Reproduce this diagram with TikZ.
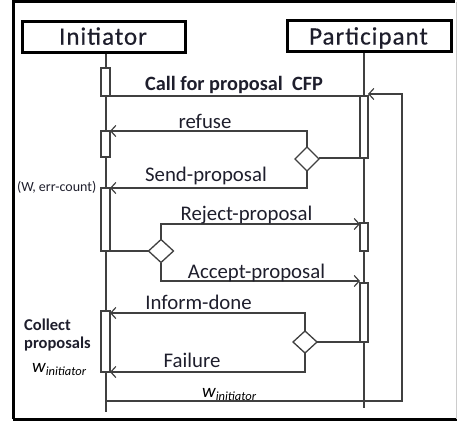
\documentclass[tikz,border=0pt]{standalone}
\usepackage{fontspec}
\setmainfont{Carlito}
\newfontfamily\titlefont[LetterSpace=4,FakeBold=0.4]{Carlito}
\usetikzlibrary{arrows.meta}
\definecolor{ln}{HTML}{404040}
\definecolor{tx}{HTML}{1E1E2C}
\begin{document}
\begin{tikzpicture}[x=1pt,y=-1pt,
  lnst/.style={draw=ln,line width=1.4pt},
  msg/.style={lnst,-{Straight Barb[length=5pt,width=11pt,line width=1.2pt]}},
  actor/.style={draw=black,line width=3pt,fill=white,minimum width=#1,minimum height=31pt,inner sep=0pt},
  bar/.style={draw=ln,line width=1.3pt,fill=white},
  lbl/.style={text=tx,inner sep=0pt,font=\fontsize{20.8}{21}\selectfont,anchor=base},
  small/.style={text=tx,inner sep=0pt,anchor=base west}]
\useasboundingbox (0,0) rectangle (457,423);
% frame
\draw[black,line width=3pt] (13,419) -- (13,1.5) -- (455,1.5);
\draw[black,line width=3pt] (13,419) -- (457,419);
\draw[gray!40,line width=0.8pt] (456,1.5) -- (456,419);
% lifelines
\coordinate (iTop) at (106,52);
\coordinate (iBot) at (106,412);
\coordinate (pTop) at (364,51);
\coordinate (pBot) at (364,408);
\draw[lnst] (iTop) -- (iBot);
\draw[lnst] (pTop) -- (pBot);
% actors
\node[actor=163pt] (init) at (103.5,36.5) {};
\node[actor=164pt] (part) at (369,36) {};
\node[lbl,font=\titlefont\fontsize{25}{25}\selectfont] (initT) at (103,44.7) {Initiator};
\node[lbl,font=\titlefont\fontsize{25}{25}\selectfont] (partT) at (368.5,44.5) {Participant};
% loop back
\coordinate (l1) at (106,401);
\coordinate (l2) at (402,401);
\coordinate (l3) at (402,94);
% activation bars
\draw[bar] (101,68) rectangle (110,96);
\draw[bar] (101,131) rectangle (110,157);
\draw[bar] (101,188) rectangle (110,251);
\draw[bar] (101,311) rectangle (110,372);
\draw[bar] (360,96) rectangle (368,158);
\draw[bar] (360,223) rectangle (368,251);
\draw[bar] (360,283) rectangle (368,342);
\coordinate (b1) at (110,96);
\coordinate (b2) at (110,131);
\coordinate (b3t) at (110,188);
\coordinate (b3b) at (110,251);
\coordinate (b4t) at (110,313);
\coordinate (b4b) at (110,372);
\coordinate (p1t) at (360,96);
\coordinate (p1b) at (360,158);
\coordinate (p1r) at (368,94);
\coordinate (p2) at (360,224);
\coordinate (p3t) at (360,281);
\coordinate (p3b) at (360,342);
% CFP
\draw[lnst] (b1) -- (p1t);
\draw[msg] (l1) -- (l2) -- (l3) -- (p1r);
\node[lbl,font=\bfseries\fontsize{20.3}{21}\selectfont] (cfp) at (234,90.5) {Call for proposal\ \ CFP};
% diamonds
\draw[lnst] (319,158) -- (p1b);
\draw[msg] (307,147) |- (b2);
\draw[msg] (307,171) |- (b3t);
\draw[lnst] (148.5,251) -- (b3b);
\draw[msg] (161,239.5) |- (p2);
\draw[msg] (161,262.5) |- (p3t);
\draw[lnst] (317,342) -- (p3b);
\draw[msg] (305,331) |- (b4t);
\draw[msg] (305,353) |- (b4b);
\draw[bar] (295,159) -- (307,147) -- (319,159) -- (307,171) -- cycle;
\draw[bar] (148.5,251) -- (161,239.5) -- (173.5,251) -- (161,262.5) -- cycle;
\draw[bar] (293,342) -- (305,331) -- (317,342) -- (305,353) -- cycle;
% labels
\node[lbl] (refuse) at (205,128) {refuse};
\node[lbl] (send) at (206,181.5) {Send-proposal};
\node[lbl] (reject) at (246.5,220) {Reject-proposal};
\node[lbl] (accept) at (256.5,278.5) {Accept-proposal};
\node[lbl] (inform) at (198.5,309) {Inform-done};
\node[lbl] (fail) at (192,367) {Failure};
\node[small,anchor=base east,font=\fontsize{14}{14}\selectfont] (werr) at (96.5,191) {(W, err-count)};
\node[small,font=\bfseries\fontsize{16.5}{17}\selectfont] (coll) at (24,330) {Collect};
\node[small,font=\bfseries\fontsize{16.5}{17}\selectfont] (prop) at (24,348) {proposals};
\node[small,font=\itshape\fontsize{19}{19}\selectfont,text=black] (w1) at (32,372) {w\raisebox{-3pt}{\fontsize{12.5}{12.5}\selectfont initiator}};
\node[small,font=\itshape\fontsize{19}{19}\selectfont,text=black] (w2) at (202,397) {w\raisebox{-3pt}{\fontsize{12.5}{12.5}\selectfont initiator}};
\end{tikzpicture}
\end{document}
